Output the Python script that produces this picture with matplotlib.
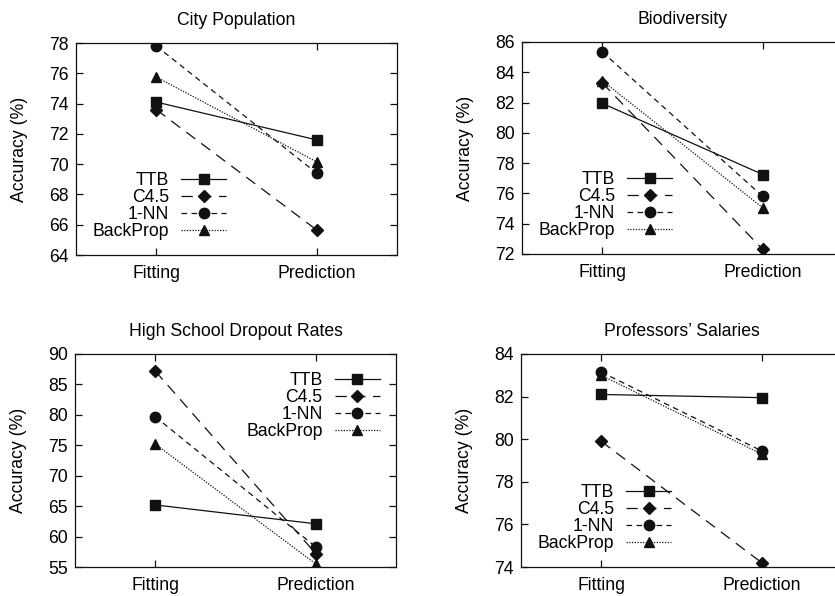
import matplotlib
matplotlib.use("Agg")
import matplotlib.pyplot as plt

plt.rcParams['font.family'] = ['Liberation Sans', 'DejaVu Sans']
plt.rcParams['font.size'] = 12.7

phases = ["Fitting", "Prediction"]
methods = ["TTB", "C4.5", "1-NN", "BackProp"]

titles = ["City Population", "Biodiversity",
          "High School Dropout Rates", "Professors\u2019 Salaries"]

city_ttb = [74.1, 71.6]
city_c45 = [73.6, 65.65]
city_nn = [77.8, 69.4]
city_bp = [75.75, 70.15]

bio_ttb = [81.95, 77.25]
bio_c45 = [83.3, 72.3]
bio_nn = [85.35, 75.8]
bio_bp = [83.45, 75.05]

drop_ttb = [65.2, 62.1]
drop_c45 = [87.2, 57.2]
drop_nn = [79.7, 58.3]
drop_bp = [75.2, 55.5]

prof_ttb = [82.1, 81.95]
prof_c45 = [79.9, 74.2]
prof_nn = [83.15, 79.45]
prof_bp = [83.0, 79.3]

ylims = [(64, 78), (72, 86), (55, 90), (74, 84)]
yticks = [range(64, 79, 2), range(72, 87, 2), range(55, 91, 5), range(74, 85, 2)]

panels = [
    [city_ttb, city_c45, city_nn, city_bp],
    [bio_ttb, bio_c45, bio_nn, bio_bp],
    [drop_ttb, drop_c45, drop_nn, drop_bp],
    [prof_ttb, prof_c45, prof_nn, prof_bp],
]

markers = ["s", "D", "o", "^"]
msizes = [7, 5.8, 7.5, 7]
dashes = [None, (9, 6), (4.5, 3.5), (1, 1.2)]

W, H = 835, 596
boxes = [
    (76, 43, 321, 212),
    (522, 42, 321, 212),
    (75, 354, 321, 213),
    (521, 354, 321, 213),
]
# legend anchor (x, y, loc) in axes coords
legends = [
    (0.468, 0.07, "lower right"),
    (0.468, 0.07, "lower right"),
    (0.95, 0.917, "upper right"),
    (0.468, 0.07, "lower right"),
]

fig = plt.figure(figsize=(W / 100, H / 100), dpi=100)

for i in range(4):
    l, t, w, h = boxes[i]
    ax = fig.add_axes([l / W, (H - t - h) / H, w / W, h / H])
    for j, vals in enumerate(panels[i]):
        ln, = ax.plot([0, 1], vals, color="#111111", lw=0.9,
                      marker=markers[j], ms=msizes[j], mfc="#111111",
                      mec="#111111", label=methods[j])
        if dashes[j] is not None:
            ln.set_dashes(dashes[j])
    ax.set_xlim(-0.5, 1.5)
    ax.set_ylim(*ylims[i])
    ax.set_xticks([0, 1])
    ax.set_xticklabels(phases)
    ax.set_yticks(list(yticks[i]))
    ax.tick_params(direction="in", top=True, right=True, length=5,
                   width=0.9, color="#111111")
    ax.tick_params(axis="x", pad=7)
    ax.tick_params(axis="y", pad=5)
    for s in ax.spines.values():
        s.set_linewidth(0.9)
        s.set_color("#111111")
    ax.set_ylabel("Accuracy (%)", labelpad=15)
    ax.set_title(titles[i], fontsize=12.7, pad=13)
    lx, ly, loc = legends[i]
    ax.legend(loc=loc, bbox_to_anchor=(lx, ly), frameon=False,
              markerfirst=False, handlelength=2.55, handletextpad=0.7,
              labelspacing=0.0, borderpad=0, borderaxespad=0)

fig.savefig("out.png", dpi=100)
